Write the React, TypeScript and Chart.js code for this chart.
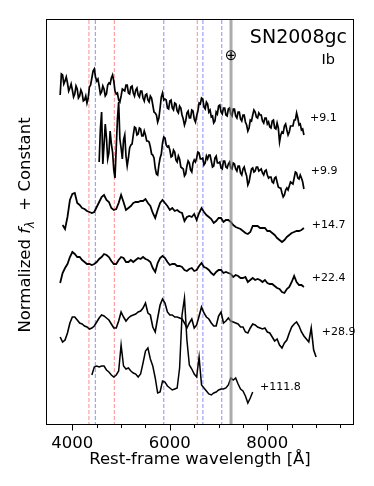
import React, { useEffect, useRef } from 'react';
import { Chart, registerables } from 'chart.js';

Chart.register(...registerables);

// ---------------- data ----------------
const X_MIN = 3480;
const X_MAX = 9757;
const Y_MIN = 0;
const Y_MAX = 40.4;

const EPOCHS = ['+9.1', '+9.9', '+14.7', '+22.4', '+28.9', '+111.8'];
const START_WAVES = [3750, 4550, 3800, 3750, 3750, 4400];
const WAVE_STEPS = [25, 25, 50, 50, 50, 50]; // Å between samples

const FLUX_9_1 = [
  32.9, 35.0, 34.9, 34.0, 34.3, 34.7, 34.1, 33.3, 33.6, 34.0,
  33.4, 32.7, 33.0, 33.8, 33.5, 32.6, 32.8, 33.4, 33.1, 32.3,
  32.4, 32.8, 32.1, 32.6, 33.7, 33.9, 34.6, 35.3, 35.5, 34.7,
  34.3, 34.5, 33.8, 33.0, 33.2, 33.8, 33.5, 32.8, 33.0, 33.9,
  34.1, 34.0, 34.6, 34.9, 34.3, 33.3, 33.0, 33.1, 32.4, 32.2,
  32.8, 33.5, 33.4, 33.3, 33.9, 33.9, 33.1, 33.0, 33.7, 33.8,
  33.1, 32.8, 33.4, 33.6, 32.9, 32.7, 33.3, 33.3, 32.6, 32.3,
  32.9, 33.0, 32.4, 32.2, 32.8, 32.6, 31.9, 31.2, 31.1, 30.9,
  30.2, 30.6, 31.6, 32.7, 33.1, 32.4, 32.5, 32.4, 31.6, 31.5,
  32.3, 32.4, 31.6, 31.4, 32.1, 32.0, 31.3, 31.1, 31.8, 31.6,
  30.9, 30.5, 29.9, 30.3, 31.1, 31.3, 30.6, 30.6, 31.4, 31.3,
  30.5, 30.2, 30.8, 31.3, 32.1, 32.0, 32.6, 32.5, 31.7, 31.5,
  32.2, 32.0, 31.2, 31.4, 30.7, 30.8, 30.1, 30.3, 31.2, 31.0,
  31.8, 31.9, 31.2, 31.0, 31.6, 31.6, 30.9, 30.8, 31.5, 31.6,
  31.0, 30.8, 31.5, 31.5, 30.8, 30.6, 31.2, 31.2, 30.5, 30.3,
  30.9, 30.9, 30.2, 29.9, 29.3, 29.6, 30.4, 30.3, 30.9, 31.4,
  31.2, 30.7, 30.6, 31.1, 30.9, 30.9, 30.3, 30.1, 30.6, 30.6,
  30.0, 30.2, 29.7, 29.6, 30.3, 30.4, 29.6, 29.5, 30.1, 29.6,
  28.2, 28.9, 29.2, 29.1, 29.8, 30.0, 29.4, 28.9, 29.2, 29.8,
  29.8, 29.8, 30.4, 30.4, 31.1, 30.6, 29.9, 30.0, 29.4, 29.5,
  28.9,
];

const FLUX_9_9 = [
  26.2, 29.5, 31.2, 26.0, 27.9, 30.0, 28.6, 26.5, 27.1, 29.3,
  28.0, 27.2, 25.4, 24.6, 27.6, 30.5, 32.2, 28.5, 27.6, 26.5,
  28.4, 28.9, 26.8, 25.8, 26.6, 27.6, 27.9, 28.0, 28.9, 29.7,
  29.6, 28.9, 29.0, 29.6, 29.5, 28.8, 28.8, 29.3, 28.9, 28.3,
  28.3, 28.2, 27.7, 27.0, 26.9, 26.6, 25.6, 25.0, 24.9, 25.9,
  26.6, 27.0, 28.1, 28.7, 28.6, 27.9, 27.7, 27.8, 27.4, 26.7,
  26.8, 27.4, 27.2, 26.4, 26.2, 26.8, 26.5, 25.7, 25.6, 25.5,
  24.8, 25.0, 25.8, 26.3, 26.1, 25.4, 25.2, 26.1, 26.4, 26.2,
  26.6, 27.2, 27.1, 26.5, 26.5, 26.6, 25.9, 26.1, 26.8, 26.5,
  26.9, 26.9, 26.3, 25.7, 25.8, 26.6, 26.8, 26.1, 26.1, 26.2,
  25.6, 25.5, 26.3, 26.3, 25.7, 25.6, 26.0, 26.2, 25.6, 25.5,
  26.1, 26.0, 25.5, 25.3, 25.8, 25.8, 25.1, 24.9, 25.5, 25.7,
  25.2, 24.8, 23.9, 24.2, 24.9, 25.5, 25.6, 25.2, 25.3, 25.7,
  25.7, 25.3, 25.4, 25.5, 25.1, 24.9, 25.3, 25.4, 24.9, 24.6,
  24.7, 24.7, 24.2, 24.1, 24.6, 24.7, 24.2, 23.7, 23.6, 23.6,
  23.1, 22.7, 22.9, 23.4, 23.6, 23.4, 23.8, 24.2, 24.1, 24.0,
  24.6, 25.2, 25.1, 24.6, 24.5, 24.9, 24.6, 24.2, 23.5,
];

const FLUX_14_7 = [
  19.9, 19.5, 20.7, 22.4, 23.0, 23.1, 22.1, 21.9, 21.6, 21.5,
  21.3, 21.2, 21.1, 21.2, 21.7, 22.2, 22.7, 22.9, 22.4, 22.2,
  21.6, 21.4, 21.5, 22.1, 22.9, 22.2, 21.4, 21.6, 21.8, 22.1,
  22.2, 22.2, 22.3, 22.3, 22.5, 22.1, 21.8, 21.1, 20.6, 21.4,
  22.1, 22.4, 22.1, 21.8, 21.4, 21.6, 21.3, 21.4, 21.2, 21.1,
  20.3, 20.7, 20.8, 20.7, 21.0, 20.4, 21.1, 21.6, 21.2, 20.9,
  20.7, 20.5, 20.1, 20.3, 20.6, 20.6, 20.2, 20.4, 20.4, 20.2,
  19.9, 19.7, 19.6, 19.5, 19.3, 19.1, 19.0, 19.2, 19.8, 19.8,
  19.8, 19.6, 19.6, 19.6, 19.3, 19.3, 19.1, 18.9, 18.6, 18.4,
  18.2, 18.4, 18.7, 18.9, 19.1, 19.2, 19.3, 19.3, 19.4, 19.6,
];

const FLUX_22_4 = [
  14.1, 15.1, 15.6, 16.0, 16.7, 17.2, 17.0, 16.7, 16.7, 16.4,
  16.2, 16.0, 16.0, 15.9, 16.0, 16.2, 16.5, 16.7, 17.0, 16.9,
  16.7, 16.3, 16.0, 16.0, 16.4, 16.7, 16.6, 16.2, 16.2, 16.4,
  16.2, 16.4, 16.6, 16.5, 16.7, 16.5, 16.4, 16.2, 15.6, 15.2,
  16.1, 16.6, 16.8, 16.6, 16.2, 15.9, 16.0, 16.0, 15.8, 15.8,
  15.7, 15.4, 15.3, 15.5, 15.6, 15.3, 15.4, 15.8, 16.1, 15.7,
  15.6, 15.4, 15.1, 14.9, 15.2, 15.4, 15.4, 15.1, 15.2, 15.1,
  15.0, 14.7, 14.9, 14.8, 14.6, 14.6, 14.7, 14.2, 14.4, 14.6,
  14.4, 14.5, 14.4, 14.2, 14.4, 14.1, 14.0, 14.0, 13.8, 13.6,
  13.5, 13.2, 13.1, 13.5, 13.7, 14.2, 14.8, 14.2, 13.9, 13.9,
  13.7,
];

const FLUX_28_9 = [
  8.7, 8.2, 8.4, 9.1, 10.1, 10.7, 10.7, 10.4, 10.1, 10.0,
  9.8, 9.7, 9.5, 9.6, 9.8, 10.2, 10.6, 10.9, 10.8, 10.6,
  10.4, 10.0, 9.6, 9.6, 10.3, 11.2, 10.7, 10.3, 10.6, 10.8,
  10.9, 11.0, 11.2, 11.3, 11.6, 12.1, 11.1, 10.9, 9.7, 9.2,
  10.6, 11.9, 12.5, 12.1, 11.2, 10.9, 10.9, 10.7, 10.7, 10.6,
  10.5, 10.1, 9.6, 10.1, 10.5, 9.6, 9.9, 10.8, 11.7, 11.1,
  10.7, 10.5, 10.1, 9.8, 9.8, 10.8, 11.2, 10.1, 10.3, 10.6,
  10.3, 10.2, 10.1, 10.0, 9.7, 9.7, 9.2, 9.1, 9.6, 10.0,
  9.9, 9.7, 9.6, 9.5, 9.6, 9.2, 9.1, 8.7, 8.3, 8.5,
  7.9, 7.6, 8.1, 8.4, 9.1, 9.7, 10.0, 10.2, 9.8, 9.2,
  8.8, 8.5, 8.2, 9.6, 7.4, 6.7,
];

const FLUX_111_8 = [
  4.9, 5.7, 5.8, 5.7, 5.8, 5.8, 5.4, 5.2, 4.9, 4.7,
  4.9, 5.3, 7.9, 5.8, 5.5, 5.6, 5.3, 5.1, 5.0, 4.7,
  5.0, 6.1, 7.3, 7.6, 6.5, 5.8, 4.6, 3.1, 3.2, 4.3,
  4.2, 3.8, 3.6, 3.4, 3.5, 3.6, 5.6, 10.9, 12.6, 8.4,
  5.9, 5.5, 5.0, 4.7, 6.7, 3.9, 3.6, 3.3, 3.0, 2.9,
  3.1, 3.2, 3.4, 3.5, 3.5, 3.6, 3.9, 4.6, 4.4, 4.6,
  4.0, 3.5, 3.3, 2.8, 2.1, 2.6, 3.2,
];

const FLUXES = [FLUX_9_1, FLUX_9_9, FLUX_14_7, FLUX_22_4, FLUX_28_9, FLUX_111_8];

// epoch label anchors (data coordinates)
const LABEL_WAVES = [8876, 8890, 8911, 8911, 9116, 7850];
const LABEL_FLUXES = [30.6, 25.3, 19.9, 14.6, 9.2, 3.7];

const HYDROGEN_LINES = [4340, 4861, 6563];
const HELIUM_LINES = [4471, 5876, 6678, 7065];
const TELLURIC_WAVE = 7255;

const X_TICKS = [4000, 4500, 5000, 5500, 6000, 6500, 7000, 7500, 8000, 8500, 9000, 9500];
const X_LABEL_TICKS = [4000, 6000, 8000];

const SN_NAME = 'SN2008gc';
const SN_TYPE = 'Ib';
const X_TITLE = 'Rest-frame wavelength [Å]';

// ---------------- drawing ----------------
const FONT = '"DejaVu Sans"';
const LINE_WIDTHS = [1.7, 1.7, 1.8, 1.8, 1.6, 1.5];

function toPoints(start: number, step: number, flux: number[]) {
  return flux.map((f, i) => ({ x: start + i * step, y: f }));
}

const overlayPlugin = {
  id: 'overlay',
  beforeDatasetsDraw(chart: any) {
    const { ctx, chartArea: a } = chart;
    const xs = chart.scales.x;
    ctx.save();
    ctx.lineWidth = 1;
    ctx.setLineDash([4, 2]);
    const vline = (w: number, color: string) => {
      const px = xs.getPixelForValue(w);
      ctx.strokeStyle = color;
      ctx.beginPath();
      ctx.moveTo(px, a.top);
      ctx.lineTo(px, a.bottom);
      ctx.stroke();
    };
    HYDROGEN_LINES.forEach((w) => vline(w, 'rgba(255,0,0,0.45)'));
    HELIUM_LINES.forEach((w) => vline(w, 'rgba(0,0,255,0.45)'));
    ctx.restore();
  },
  afterDatasetsDraw(chart: any) {
    const { ctx, chartArea: a } = chart;
    const xs = chart.scales.x;
    const ys = chart.scales.y;
    ctx.save();
    const tx = xs.getPixelForValue(TELLURIC_WAVE);
    ctx.strokeStyle = 'rgba(128,128,128,0.65)';
    ctx.lineWidth = 3;
    ctx.beginPath();
    ctx.moveTo(tx, a.top);
    ctx.lineTo(tx, a.bottom);
    ctx.stroke();

    ctx.fillStyle = '#000';
    ctx.font = `15px ${FONT}`;
    ctx.textAlign = 'center';
    ctx.textBaseline = 'middle';
    ctx.fillText('⊕', tx, a.top + 36);

    ctx.font = `11px ${FONT}`;
    ctx.textAlign = 'left';
    ctx.textBaseline = 'middle';
    EPOCHS.forEach((t, i) => {
      ctx.fillText(t, xs.getPixelForValue(LABEL_WAVES[i]), ys.getPixelForValue(LABEL_FLUXES[i]));
    });

    ctx.textAlign = 'right';
    ctx.textBaseline = 'alphabetic';
    ctx.font = `19px ${FONT}`;
    ctx.fillText(SN_NAME, a.right - 6, a.top + 23.3);
    ctx.font = `14.5px ${FONT}`;
    ctx.fillText(SN_TYPE, a.right - 18, a.top + 44);
    ctx.restore();
  },
  afterDraw(chart: any) {
    const { ctx, chartArea: a } = chart;
    const xs = chart.scales.x;
    ctx.save();
    ctx.strokeStyle = '#000';
    ctx.lineWidth = 1;
    ctx.strokeRect(a.left - 0.5, a.top - 0.5, a.right - a.left + 1, a.bottom - a.top + 1);
    X_TICKS.forEach((w) => {
      const px = Math.round(xs.getPixelForValue(w)) + 0.5;
      const len = X_LABEL_TICKS.includes(w) ? 6 : 3.5;
      ctx.beginPath();
      ctx.moveTo(px, a.bottom + 0.5);
      ctx.lineTo(px, a.bottom + 0.5 + len);
      ctx.stroke();
    });
    ctx.fillStyle = '#000';
    ctx.font = `16.5px ${FONT}`;
    ctx.textAlign = 'center';
    ctx.textBaseline = 'alphabetic';
    X_LABEL_TICKS.forEach((w) => {
      ctx.fillText(String(w), xs.getPixelForValue(w), a.bottom + 23.5);
    });
    ctx.fillText(X_TITLE, (a.left + a.right) / 2, a.bottom + 39.5);

    const size = 16.5;
    const parts = [
      { t: 'Normalized ', f: `${size}px ${FONT}`, dy: 0 },
      { t: 'f', f: `italic ${size}px ${FONT}`, dy: 0 },
      { t: 'λ', f: `italic ${size * 0.7}px ${FONT}`, dy: size * 0.22 },
      { t: '  + Constant', f: `${size}px ${FONT}`, dy: 0 },
    ];
    let total = 0;
    const widths = parts.map((p) => {
      ctx.font = p.f;
      const w = ctx.measureText(p.t).width;
      total += w;
      return w;
    });
    ctx.translate(30, (a.top + a.bottom) / 2 + 3);
    ctx.rotate(-Math.PI / 2);
    ctx.textAlign = 'left';
    let cx = -total / 2;
    parts.forEach((p, i) => {
      ctx.font = p.f;
      ctx.fillText(p.t, cx, p.dy);
      cx += widths[i];
    });
    ctx.restore();
  },
};

export default function App() {
  const ref = useRef<HTMLCanvasElement | null>(null);
  useEffect(() => {
    if (!ref.current) return;
    const chart = new Chart(ref.current, {
      type: 'line',
      data: {
        datasets: FLUXES.map((flux, i) => ({
          label: EPOCHS[i],
          data: toPoints(START_WAVES[i], WAVE_STEPS[i], flux),
          borderColor: '#000',
          borderWidth: LINE_WIDTHS[i],
          borderJoinStyle: 'miter',
          pointRadius: 0,
          tension: 0,
          fill: false,
        })),
      },
      options: {
        animation: false,
        responsive: false,
        devicePixelRatio: 1,
        events: [],
        layout: { padding: { left: 47, right: 21, top: 20, bottom: 62 } },
        plugins: { legend: { display: false }, tooltip: { enabled: false } },
        scales: {
          x: { type: 'linear', min: X_MIN, max: X_MAX, display: false },
          y: { type: 'linear', min: Y_MIN, max: Y_MAX, display: false },
        },
      },
      plugins: [overlayPlugin],
    } as any);
    return () => chart.destroy();
  }, []);
  return (
    <div style={{ position: 'fixed', left: 0, top: 0, width: 374, height: 486, background: '#fff' }}>
      <canvas ref={ref} width={374} height={486} style={{ display: 'block' }} />
    </div>
  );
}
